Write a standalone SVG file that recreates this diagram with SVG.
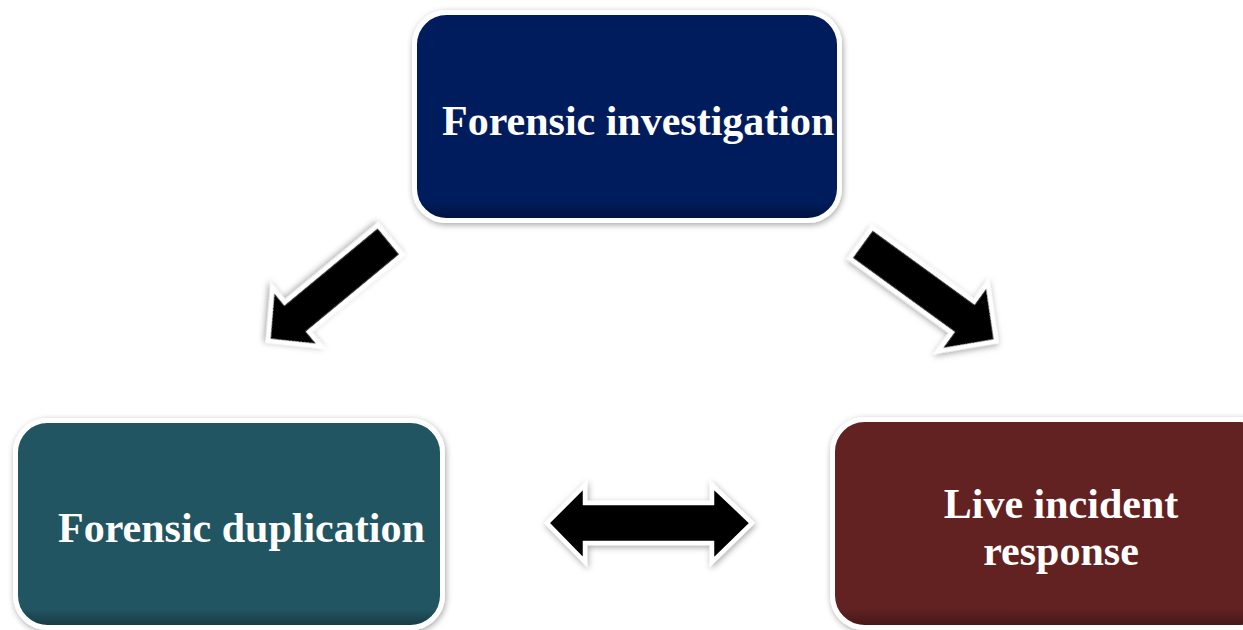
<svg xmlns="http://www.w3.org/2000/svg" width="1243" height="630" viewBox="0 0 1243 630">
  <style>
    .box { stroke: #ffffff; stroke-width: 5; filter: url(#shadow); }
    .shade { fill: url(#bevel); }
    .label { font-family: "Liberation Serif", "Times New Roman", serif; font-weight: bold; font-size: 42px; fill: #ffffff; }
    .arrow { fill: #000000; stroke: #ffffff; stroke-width: 4.5; stroke-linejoin: miter; filter: url(#shadow); }
  </style>
  <defs>
    <filter id="shadow" x="-20%" y="-20%" width="140%" height="140%">
      <feDropShadow dx="1" dy="2" stdDeviation="3" flood-color="#000000" flood-opacity="0.35"/>
    </filter>
    <linearGradient id="bevel" x1="0" y1="0" x2="0" y2="1">
      <stop offset="0" stop-color="#000000" stop-opacity="0"/>
      <stop offset="0.92" stop-color="#000000" stop-opacity="0"/>
      <stop offset="1" stop-color="#000000" stop-opacity="0.3"/>
    </linearGradient>
  </defs>

  <rect width="1243" height="630" fill="#ffffff"/>

  <!-- connectors -->
  <g id="connectors">
    <path class="arrow" transform="translate(390,240) rotate(140.4)"
          d="M0,-19 L121,-19 L121,-38 L158,0 L121,38 L121,19 L0,19 Z"/>
    <path class="arrow" transform="translate(861,243) rotate(36)"
          d="M0,-19 L126,-19 L126,-42 L167,0 L126,42 L126,19 L0,19 Z"/>
    <path class="arrow"
          d="M547,523 L585,485 L585,503 L712,503 L712,485 L752,523 L712,562 L712,543 L585,543 L585,562 Z"/>
  </g>

  <!-- top node -->
  <g id="forensic-investigation">
    <rect class="box" x="414.5" y="12.5" width="425" height="208" rx="32" fill="#001F5B"/>
    <rect class="shade" x="417" y="15" width="420" height="203" rx="30"/>
    <text class="label" x="442" y="135">Forensic investigation</text>
  </g>

  <!-- lower left node -->
  <g id="forensic-duplication">
    <rect class="box" x="15.5" y="420.5" width="427" height="207" rx="32" fill="#215462"/>
    <rect class="shade" x="18" y="423" width="422" height="202" rx="30"/>
    <text class="label" x="58" y="542">Forensic duplication</text>
  </g>

  <!-- lower right node -->
  <g id="live-incident-response">
    <rect class="box" x="832.5" y="419.5" width="440" height="208" rx="32" fill="#622423"/>
    <rect class="shade" x="835" y="422" width="435" height="203" rx="30"/>
    <text class="label" x="1061" y="518" text-anchor="middle">Live incident</text>
    <text class="label" x="1061" y="565" text-anchor="middle">response</text>
  </g>
</svg>
